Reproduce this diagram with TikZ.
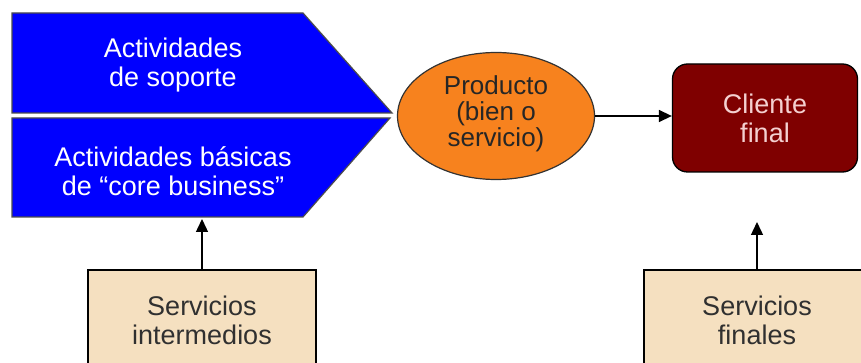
\documentclass[tikz,border=0pt]{standalone}
\usepackage{fontspec}
\setmainfont{Liberation Sans}
\usetikzlibrary{shapes.geometric,arrows.meta}
\definecolor{actblue}{HTML}{0000FF}
\definecolor{prodorange}{HTML}{F7821E}
\definecolor{clientred}{HTML}{7F0000}
\definecolor{servbeige}{HTML}{F5E0C0}
\definecolor{clienttext}{HTML}{F4D0D0}
\definecolor{servtext}{HTML}{303030}
\tikzset{
  txt/.style={font=\fontsize{27}{29}\selectfont, align=center, inner sep=0pt},
  actshape/.style={fill=actblue, draw=black!70, line width=1.2pt, line join=miter},
  servbox/.style={draw=black, line width=1.3pt, fill=servbeige, minimum height=100pt,
    inner sep=0pt, txt, text=servtext},
  flow/.style={line width=1.4pt, -{Triangle[length=13pt,width=12pt]}}
}
\begin{document}
\begin{tikzpicture}[x=1pt, y=-1pt]
\useasboundingbox (0,0) rectangle (861,363);

% support and core activities (split arrow)
\path[actshape] (12,13) -- (303,13) -- (392,113) -- (12,113) -- cycle;
\path[actshape] (12,118) -- (390,118) -- (303,217) -- (12,217) -- cycle;
\node[txt, text=white] (soporte) at (173,65) {Actividades\\de soporte};
\node[txt, text=white] (core) at (173,171) {Actividades básicas\\de “core business”};
\coordinate (corebottom) at (200,219);

% product
\node[ellipse, draw=black!80, line width=1.2pt, fill=prodorange,
  minimum width=197pt, minimum height=127pt, inner sep=0pt] (prod) at (496,116) {};
\node[txt, text=black!85, font=\fontsize{26}{26}\selectfont] (prodtxt) at (496,114)
  {Producto\\(bien o\\servicio)};

% final client
\node[draw=black, line width=1.3pt, fill=clientred, rounded corners=15pt,
  minimum width=185pt, minimum height=108pt, txt, text=clienttext] (cliente) at (765,118)
  {Cliente\\final};

% services
\node[servbox, minimum width=228pt] (sint) at (202,320) {Servicios\\intermedios};
\node[servbox, minimum width=226pt] (sfin) at (757,320) {Servicios\\finales};

% connectors
\draw[flow] (prod.east) -- (prod.east -| cliente.west);
\draw[flow] (sint.north) -- (sint.north |- corebottom);
\draw[flow] (sfin.north) -- (sfin.north |- 0,222);
\end{tikzpicture}
\end{document}
